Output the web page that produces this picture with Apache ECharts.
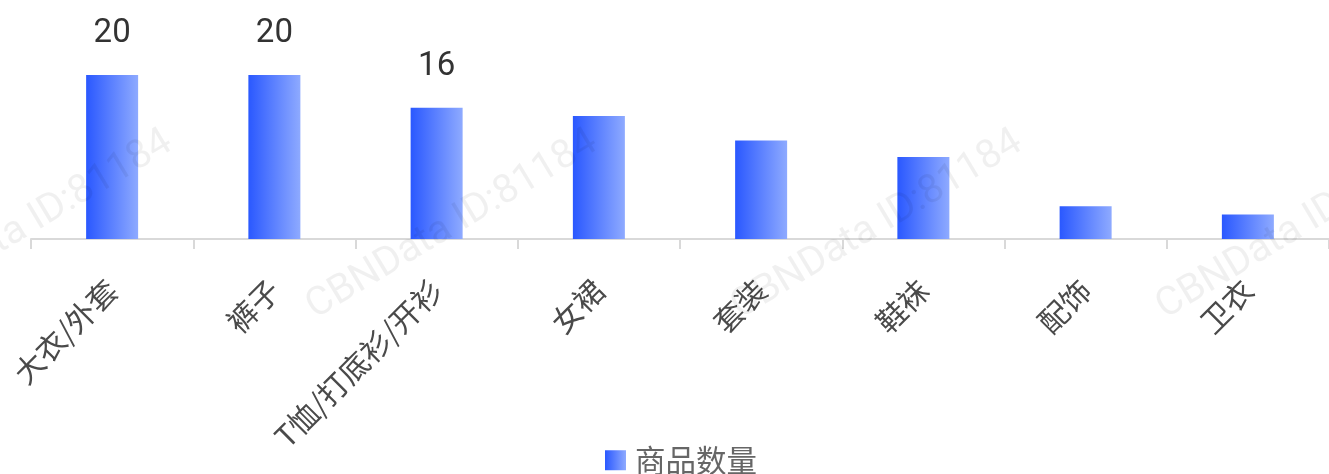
<!DOCTYPE html>
<html>
<head>
<meta charset="utf-8">
<script src="https://cdn.jsdelivr.net/npm/echarts@6/dist/echarts.min.js"></script>
<style>
html,body{margin:0;padding:0;background:#fff;}
#c{width:1329px;height:474px;}
</style>
</head>
<body>
<div id="c"></div>
<script>
const categories = ['大衣/外套', '裤子', 'T恤/打底衫/开衫', '女裙', '套装', '鞋袜', '配饰', '卫衣'];
const values = [20, 20, 16, 15, 12, 10, 4, 3];
const labeledCount = 3;
const seriesName = '商品数量';
const watermarkText = 'CBNData ID:81184';

const grad = new echarts.graphic.LinearGradient(0, 0, 1, 0, [
  { offset: 0, color: '#2a58ff' },
  { offset: 1, color: '#8eaaff' }
]);

const chart = echarts.init(document.getElementById('c'));

const wmCenters = [27, 452, 877, 1302];
const graphics = wmCenters.map(x => ({
  type: 'text',
  x: x, y: 225,
  rotation: 31 * Math.PI / 180,
  z: 100,
  silent: true,
  style: {
    text: watermarkText,
    fontSize: 40,
    fontFamily: 'Roboto',
    fill: 'rgba(0,0,0,0.06)',
    align: 'center',
    verticalAlign: 'middle'
  }
}));

chart.setOption({
  animation: false,
  backgroundColor: '#fff',
  graphic: graphics,
  grid: { left: 31, top: 75, width: 1300, bottom: 235, containLabel: false },
  legend: {
    data: [seriesName],
    left: 605,
    top: 445,
    padding: 0,
    itemWidth: 21,
    itemHeight: 20,
    icon: 'rect',
    textStyle: {
      fontSize: 30.5,
      color: '#666',
      fontFamily: 'Noto Sans CJK SC',
      padding: [0, 0, 0, 4]
    }
  },
  xAxis: {
    type: 'category',
    data: categories,
    axisLine: { lineStyle: { color: '#d9d9d9', width: 2 } },
    axisTick: { show: true, length: 10, lineStyle: { color: '#d9d9d9', width: 2 } },
    axisLabel: {
      rotate: 45,
      margin: 46,
      fontSize: 30,
      color: '#4a4a4a',
      fontFamily: 'Noto Sans CJK SC',
      interval: 0
    }
  },
  yAxis: {
    type: 'value',
    min: 0,
    max: 20,
    show: false,
    splitLine: { show: false }
  },
  series: [{
    name: seriesName,
    type: 'bar',
    barWidth: 52,
    itemStyle: { color: grad },
    data: values.map((v, i) => ({
      value: v,
      label: {
        show: i < labeledCount,
        position: 'top',
        distance: 25,
        fontSize: 33,
        color: '#333',
        fontFamily: 'Roboto'
      }
    }))
  }]
});
</script>
</body>
</html>
